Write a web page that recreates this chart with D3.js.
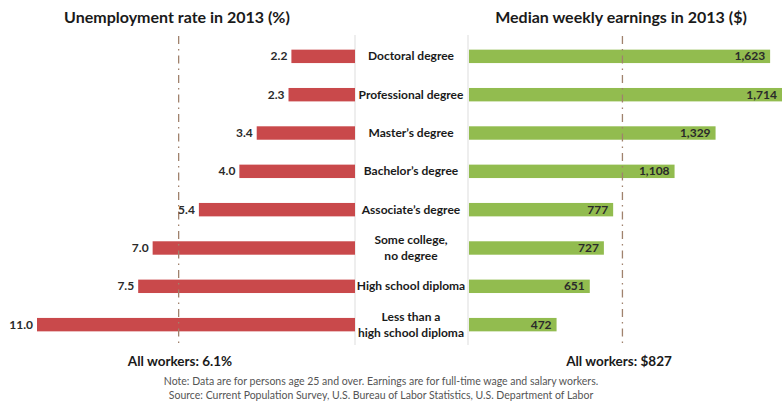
<!DOCTYPE html>
<meta charset="utf-8">
<style>
body { margin: 0; background: #fff; }
text { font-family: Lato, "Open Sans", sans-serif; }
.title { font-size: 16px; font-weight: bold; fill: #1a1a1a; }
.cat { font-size: 12px; font-weight: bold; fill: #1a1a1a; }
.val { font-size: 12px; font-weight: bold; fill: #2a2a2a; }
.foot { font-size: 13.5px; font-weight: bold; fill: #1a1a1a; }
.note { font-size: 10.5px; fill: #555; }
.avg { stroke: #a0826d; stroke-width: 1.3px; stroke-dasharray: 8,5,1.5,5; }
.base { stroke: #ddd; stroke-width: 1px; }
</style>
<svg width="782" height="406"></svg>
<script src="https://d3js.org/d3.v7.min.js"></script>
<script>

const categories = ["Doctoral degree", "Professional degree", "Master's degree", "Bachelor's degree",
  "Associate's degree", "Some college,|no degree", "High school diploma", "Less than a|high school diploma"];
const unemployment = [2.2, 2.3, 3.4, 4.0, 5.4, 7.0, 7.5, 11.0];
const earnings = [1623, 1714, 1329, 1108, 777, 727, 651, 472];
const allUnemp = 6.1;
const allEarn = 827;
const notes = ["Note: Data are for persons age 25 and over. Earnings are for full-time wage and salary workers.",
  "Source: Current Population Survey, U.S. Bureau of Labor Statistics, U.S. Department of Labor"];

var svg = d3.select("svg");

var y = d3.scaleBand().domain(categories).range([37, 344]).paddingInner(0.65).paddingOuter(0.33);

// left side grows leftwards from 355
var xl = d3.scaleLinear().domain([0, 11]).range([355, 37]);
// right side grows rightwards from 469
var xr = d3.scaleLinear().domain([0, 1714]).range([469, 787]);

svg.append("text").attr("class", "title").attr("x", 177).attr("y", 23)
  .attr("text-anchor", "middle").text("Unemployment rate in 2013 (%)");
svg.append("text").attr("class", "title").attr("x", 621).attr("y", 23)
  .attr("text-anchor", "middle").text("Median weekly earnings in 2013 ($)");

svg.append("line").attr("class", "base").attr("x1", 355).attr("x2", 355).attr("y1", 35).attr("y2", 345);
svg.append("line").attr("class", "base").attr("x1", 468).attr("x2", 468).attr("y1", 35).attr("y2", 345);

svg.selectAll("rect.l").data(unemployment).enter().append("rect")
  .attr("class", "l")
  .attr("x", d => xl(d))
  .attr("y", (d, i) => y(categories[i]))
  .attr("width", d => xl(0) - xl(d))
  .attr("height", y.bandwidth())
  .style("fill", "#c9494b");

svg.selectAll("rect.r").data(earnings).enter().append("rect")
  .attr("class", "r")
  .attr("x", xr(0))
  .attr("y", (d, i) => y(categories[i]))
  .attr("width", d => xr(d) - xr(0))
  .attr("height", y.bandwidth())
  .style("fill", "#92bc4f");

svg.append("line").attr("class", "avg").attr("x1", xl(allUnemp)).attr("x2", xl(allUnemp)).attr("y1", 36).attr("y2", 348);
svg.append("line").attr("class", "avg").attr("x1", xr(allEarn)).attr("x2", xr(allEarn)).attr("y1", 36).attr("y2", 348);

svg.selectAll("text.lv").data(unemployment).enter().append("text")
  .attr("class", "val lv")
  .attr("x", d => xl(d) - 4)
  .attr("y", (d, i) => y(categories[i]) + y.bandwidth() / 2 + 4)
  .attr("text-anchor", "end")
  .text(d => d.toFixed(1));

svg.selectAll("text.rv").data(earnings).enter().append("text")
  .attr("class", "val rv")
  .attr("x", d => Math.min(xr(d), 782) - 5)
  .attr("y", (d, i) => y(categories[i]) + y.bandwidth() / 2 + 4)
  .attr("text-anchor", "end")
  .text(d => d3.format(",")(d));

svg.selectAll("text.cat").data(categories).enter().append("text")
  .attr("class", "cat")
  .attr("text-anchor", "middle")
  .each(function(d) {
    var lines = d.split("|");
    var cy = y(d) + y.bandwidth() / 2;
    var t = d3.select(this);
    lines.forEach(function(s, k) {
      t.append("tspan").attr("x", 411)
        .attr("y", cy + 4 + (k - (lines.length - 1) / 2) * 16)
        .text(s.replace("'", "\u2019"));
    });
  });

svg.append("text").attr("class", "foot").attr("x", 180).attr("y", 366)
  .attr("text-anchor", "middle").text("All workers: " + allUnemp + "%");
svg.append("text").attr("class", "foot").attr("x", 619).attr("y", 366)
  .attr("text-anchor", "middle").text("All workers: $" + allEarn);

svg.selectAll("text.note").data(notes).enter().append("text")
  .attr("class", "note")
  .attr("x", 381)
  .attr("y", (d, i) => 385 + i * 14)
  .attr("text-anchor", "middle")
  .text(d => d);
</script>
